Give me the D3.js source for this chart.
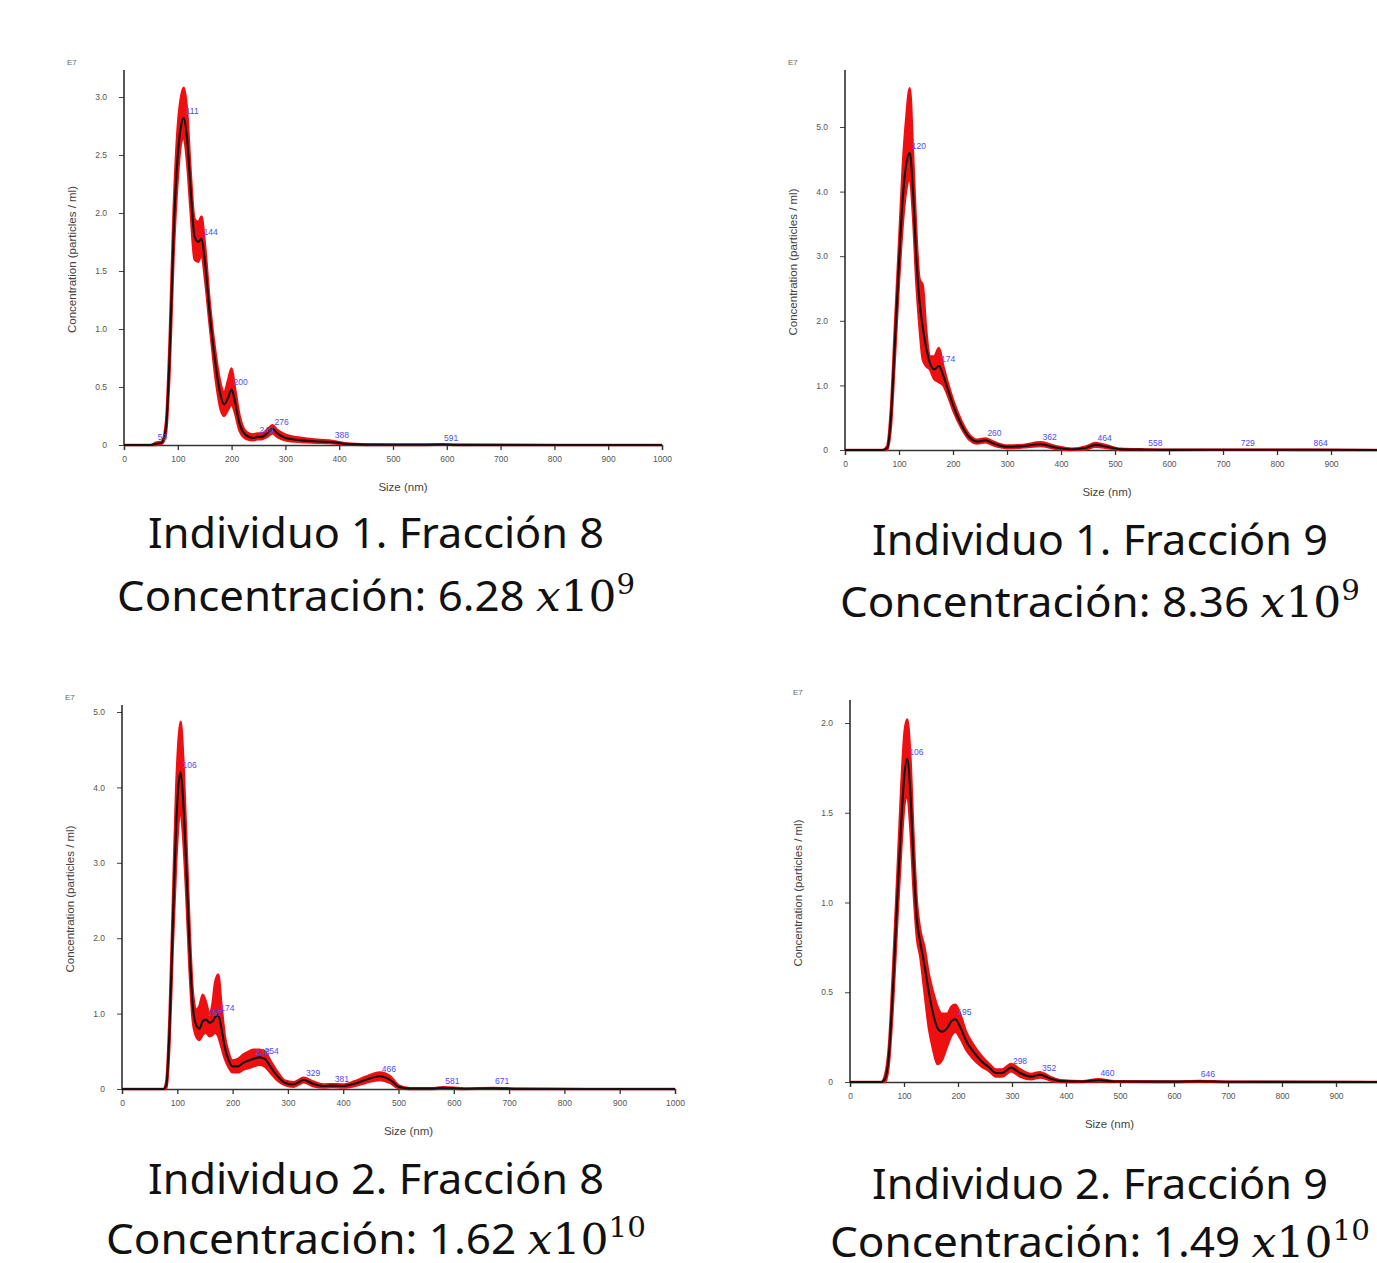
<!DOCTYPE html>
<html>
<head>
<meta charset="utf-8">
<script src="https://d3js.org/d3.v7.min.js"></script>
<style>
  body { margin: 0; background: #fff; }
  svg { display: block; }
</style>
</head>
<body>
<div id="vis"></div>
<script>
// ---- data (E7 particles / ml) ----
var sz1 = [0, 50, 59, 70, 78, 85, 92, 100, 106, 111, 117, 124, 131, 138, 144, 150, 160, 170, 180, 186, 193, 200, 206, 215, 228, 240, 248, 256, 266, 276, 285, 300, 330, 360, 388, 410, 450, 560, 591, 620, 1000];
var mean1 = [0, 0, 0.01, 0.02, 0.15, 0.8, 1.8, 2.5, 2.75, 2.82, 2.65, 2.2, 1.8, 1.75, 1.78, 1.6, 1.1, 0.7, 0.42, 0.35, 0.4, 0.48, 0.38, 0.18, 0.08, 0.06, 0.07, 0.07, 0.1, 0.14, 0.1, 0.06, 0.04, 0.03, 0.025, 0.01, 0.003, 0.002, 0.004, 0.001, 0];
var hi1 = [0, 0, 0.02, 0.03, 0.2, 0.95, 2.0, 2.75, 3.0, 3.08, 2.9, 2.35, 1.95, 1.92, 1.97, 1.75, 1.2, 0.8, 0.52, 0.45, 0.55, 0.66, 0.5, 0.25, 0.11, 0.09, 0.1, 0.1, 0.13, 0.17, 0.13, 0.09, 0.06, 0.045, 0.035, 0.015, 0.005, 0.004, 0.006, 0.002, 0];
var lo1 = [0, 0, 0, 0.01, 0.1, 0.65, 1.6, 2.3, 2.6, 2.65, 2.45, 2.0, 1.6, 1.58, 1.65, 1.45, 1.0, 0.58, 0.3, 0.25, 0.3, 0.35, 0.28, 0.12, 0.05, 0.04, 0.05, 0.05, 0.07, 0.1, 0.07, 0.04, 0.025, 0.02, 0.015, 0.005, 0, 0, 0.002, 0, 0];
var pk1 = [59, 111, 144, 200, 248, 276, 388, 591];

var sz2 = [0, 70, 78, 85, 92, 100, 107, 113, 120, 126, 132, 138, 144, 150, 157, 165, 174, 182, 190, 200, 215, 230, 245, 260, 275, 300, 330, 362, 390, 420, 445, 464, 485, 510, 558, 600, 729, 864, 1000];
var mean2 = [0, 0, 0.03, 0.5, 1.6, 2.9, 3.9, 4.4, 4.6, 4.0, 3.0, 2.3, 1.9, 1.6, 1.35, 1.25, 1.3, 1.15, 0.95, 0.7, 0.4, 0.2, 0.13, 0.15, 0.1, 0.05, 0.06, 0.09, 0.04, 0.01, 0.03, 0.08, 0.05, 0.01, 0.005, 0.002, 0.004, 0.003, 0];
var hi2 = [0, 0, 0.06, 0.65, 1.85, 3.2, 4.4, 5.1, 5.6, 4.6, 3.4, 2.65, 2.55, 1.9, 1.45, 1.45, 1.58, 1.3, 1.05, 0.78, 0.46, 0.24, 0.16, 0.18, 0.13, 0.07, 0.08, 0.12, 0.06, 0.02, 0.05, 0.11, 0.07, 0.02, 0.01, 0.005, 0.006, 0.005, 0];
var lo2 = [0, 0, 0, 0.35, 1.35, 2.6, 3.5, 4.0, 4.2, 3.6, 2.6, 1.9, 1.4, 1.3, 1.25, 1.1, 1.05, 1.0, 0.85, 0.62, 0.35, 0.16, 0.1, 0.12, 0.07, 0.03, 0.04, 0.06, 0.02, 0, 0.01, 0.05, 0.03, 0, 0, 0, 0.002, 0.001, 0];
var pk2 = [120, 174, 260, 362, 464, 558, 729, 864];

var sz3 = [0, 75, 80, 86, 92, 98, 103, 106, 110, 116, 122, 128, 134, 140, 146, 152, 158, 164, 168, 174, 180, 186, 192, 200, 210, 220, 230, 238, 248, 258, 268, 280, 295, 310, 329, 345, 365, 381, 400, 420, 440, 466, 485, 500, 520, 560, 581, 620, 671, 720, 1000];
var mean3 = [0, 0, 0.05, 0.8, 2.2, 3.5, 4.1, 4.2, 3.9, 3.0, 1.9, 1.1, 0.85, 0.8, 0.9, 0.92, 0.88, 0.9, 0.95, 0.98, 0.8, 0.55, 0.4, 0.3, 0.3, 0.35, 0.38, 0.4, 0.42, 0.4, 0.3, 0.18, 0.08, 0.06, 0.12, 0.07, 0.04, 0.045, 0.04, 0.07, 0.12, 0.17, 0.12, 0.03, 0.005, 0.005, 0.015, 0.004, 0.008, 0.002, 0];
var hi3 = [0, 0, 0.1, 1.0, 2.5, 4.0, 4.7, 4.87, 4.5, 3.4, 2.2, 1.3, 1.05, 1.1, 1.25, 1.15, 1.0, 1.15, 1.4, 1.52, 1.1, 0.7, 0.5, 0.38, 0.4, 0.46, 0.5, 0.52, 0.52, 0.5, 0.38, 0.24, 0.11, 0.09, 0.15, 0.1, 0.06, 0.065, 0.06, 0.1, 0.16, 0.22, 0.17, 0.05, 0.01, 0.01, 0.025, 0.008, 0.014, 0.004, 0];
var lo3 = [0, 0, 0, 0.6, 1.9, 3.0, 3.6, 3.7, 3.4, 2.6, 1.6, 0.9, 0.7, 0.65, 0.72, 0.75, 0.7, 0.72, 0.75, 0.7, 0.55, 0.4, 0.3, 0.22, 0.22, 0.26, 0.28, 0.3, 0.32, 0.3, 0.22, 0.12, 0.05, 0.03, 0.09, 0.04, 0.02, 0.025, 0.02, 0.04, 0.08, 0.12, 0.08, 0.01, 0, 0, 0.005, 0, 0.002, 0, 0];
var pk3 = [106, 152, 174, 238, 254, 329, 381, 466, 581, 671];

var sz4 = [0, 58, 65, 72, 80, 88, 95, 101, 106, 112, 118, 124, 130, 138, 146, 154, 162, 170, 180, 188, 195, 205, 215, 228, 242, 258, 270, 282, 298, 315, 335, 352, 370, 390, 430, 460, 490, 600, 646, 700, 1000];
var mean4 = [0, 0, 0.02, 0.15, 0.55, 1.05, 1.45, 1.72, 1.8, 1.6, 1.2, 0.9, 0.78, 0.65, 0.5, 0.38, 0.3, 0.28, 0.3, 0.34, 0.35, 0.3, 0.23, 0.17, 0.12, 0.08, 0.05, 0.05, 0.08, 0.05, 0.03, 0.04, 0.02, 0.005, 0.003, 0.01, 0.003, 0.002, 0.004, 0.001, 0];
var hi4 = [0, 0, 0.04, 0.2, 0.65, 1.18, 1.65, 1.95, 2.02, 1.8, 1.35, 1.0, 0.85, 0.75, 0.6, 0.5, 0.42, 0.38, 0.38, 0.42, 0.43, 0.37, 0.28, 0.21, 0.15, 0.1, 0.07, 0.07, 0.1, 0.07, 0.045, 0.055, 0.03, 0.01, 0.005, 0.015, 0.005, 0.003, 0.006, 0.002, 0];
var lo4 = [0, 0, 0, 0.1, 0.45, 0.92, 1.3, 1.55, 1.6, 1.4, 1.05, 0.8, 0.7, 0.5, 0.3, 0.18, 0.1, 0.12, 0.2, 0.26, 0.28, 0.24, 0.18, 0.13, 0.09, 0.06, 0.03, 0.03, 0.06, 0.03, 0.015, 0.025, 0.01, 0, 0, 0.005, 0.001, 0, 0.002, 0, 0];
var pk4 = [106, 195, 298, 352, 460, 646];

var yTicks1 = [0, 0.5, 1.0, 1.5, 2.0, 2.5, 3.0];
var yTicks2 = [0, 1, 2, 3, 4, 5];
var yTicks3 = [0, 1, 2, 3, 4, 5];
var yTicks4 = [0, 0.5, 1.0, 1.5, 2.0];
var xTicks = [0, 100, 200, 300, 400, 500, 600, 700, 800, 900, 1000];

var titles = ["Individuo 1. Fracción 8", "Individuo 1. Fracción 9", "Individuo 2. Fracción 8", "Individuo 2. Fracción 9"];
var concVals = ["6.28", "8.36", "1.62", "1.49"];
var concExp = ["9", "9", "10", "10"];

// ---- layout (pixel placement of each panel) ----
var layout = [
  {x0: 124, x1: 662, base: 445, top: 97, axTop: 70, cx: 376, t1: 548, t2: 611, w1: 456, w2: 518},
  {x0: 845, x1: 1385, base: 450, top: 127, axTop: 70, cx: 1100, t1: 555, t2: 617, w1: 456, w2: 520},
  {x0: 122, x1: 675, base: 1089, top: 712, axTop: 705, cx: 376, t1: 1194, t2: 1254, w1: 456, w2: 540},
  {x0: 850, x1: 1390, base: 1082, top: 723, axTop: 700, cx: 1100, t1: 1199, t2: 1257, w1: 456, w2: 540}
];

var series = [
  {sz: sz1, mean: mean1, hi: hi1, lo: lo1, pk: pk1, yt: yTicks1, ymax: 3},
  {sz: sz2, mean: mean2, hi: hi2, lo: lo2, pk: pk2, yt: yTicks2, ymax: 5},
  {sz: sz3, mean: mean3, hi: hi3, lo: lo3, pk: pk3, yt: yTicks3, ymax: 5},
  {sz: sz4, mean: mean4, hi: hi4, lo: lo4, pk: pk4, yt: yTicks4, ymax: 2}
];

var svg = d3.select("#vis").append("svg")
  .attr("width", 1377)
  .attr("height", 1263);

series.forEach(function(s, i) {
  var L = layout[i];
  var x = d3.scaleLinear().domain([0, 1000]).range([L.x0, L.x1]);
  var y = d3.scaleLinear().domain([0, s.ymax]).range([L.base, L.top]);
  var pts = s.sz.map(function(v, j) { return {s: v, m: s.mean[j], h: s.hi[j], l: s.lo[j]}; });

  var g = svg.append("g");

  // axes (ticks that fall past the page edge are left out)
  var xAxis = d3.axisBottom(x)
    .tickValues(xTicks.filter(function(t) { return x(t) < 1370; }))
    .tickSize(5).tickPadding(6)
    .tickFormat(d3.format("d"));
  var gx = g.append("g").attr("transform", "translate(0," + L.base + ")").call(xAxis);
  gx.select(".domain").attr("stroke", "#333").attr("stroke-width", 1.3);
  gx.selectAll(".tick line").attr("stroke", "#333").attr("stroke-width", 1.3);
  gx.selectAll(".tick text").attr("fill", "#555").attr("font-size", 8.5)
    .attr("font-family", "Liberation Sans, Arial, sans-serif");

  var yAxis = d3.axisLeft(y).tickValues(s.yt).tickSize(5).tickPadding(12)
    .tickFormat(function(d) { return d === 0 ? "0" : d3.format(".1f")(d); });
  var gy = g.append("g").attr("transform", "translate(" + L.x0 + ",0)").call(yAxis);
  gy.select(".domain").remove();
  gy.append("line").attr("x1", 0).attr("x2", 0).attr("y1", L.axTop).attr("y2", L.base)
    .attr("stroke", "#222").attr("stroke-width", 1.5);
  gy.selectAll(".tick line").attr("stroke", "#444");
  gy.selectAll(".tick text").attr("fill", "#555").attr("font-size", 8.5)
    .attr("font-family", "Liberation Sans, Arial, sans-serif");

  g.append("text").attr("x", L.x0 - 57).attr("y", L.axTop - 5)
    .attr("font-size", 8).attr("fill", "#666")
    .attr("font-family", "Liberation Sans, Arial, sans-serif").text("E7");

  g.append("text")
    .attr("transform", "translate(" + (L.x0 - 48) + "," + ((L.base + L.axTop) / 2 + 2) + ") rotate(-90)")
    .attr("text-anchor", "middle").attr("font-size", 11.5).attr("fill", "#444")
    .attr("font-family", "Liberation Sans, Arial, sans-serif")
    .text("Concentration (particles / ml)");

  g.append("text").attr("x", (L.x0 + Math.min(L.x1, 1377)) / 2 + (i % 2 ? -4 : 10)).attr("y", L.base + 46)
    .attr("text-anchor", "middle").attr("font-size", 11.5).attr("fill", "#444")
    .attr("font-family", "Liberation Sans, Arial, sans-serif").text("Size (nm)");

  // error band + mean line
  var band = d3.area().x(function(d) { return x(d.s); })
    .y0(function(d) { return y(d.l); }).y1(function(d) { return y(d.h); })
    .curve(d3.curveMonotoneX);
  var line = d3.line().x(function(d) { return x(d.s); }).y(function(d) { return y(d.m); })
    .curve(d3.curveMonotoneX);

  g.append("path").datum(pts).attr("d", band)
    .attr("fill", "#ee1010").attr("stroke", "#ee1010").attr("stroke-width", 2.4);
  g.append("path").datum(pts).attr("d", line)
    .attr("fill", "none").attr("stroke", "#111").attr("stroke-width", 2.1);

  // peak labels
  g.selectAll("text.pk").data(s.pk).enter().append("text")
    .attr("class", "pk")
    .attr("x", function(d) { return x(d) + 2; })
    .attr("y", function(d) {
      var m = d3.scaleLinear().domain(s.sz).range(s.mean)(d);
      return y(m) - 4;
    })
    .attr("font-size", 8.5).attr("fill", "#4a4aff")
    .attr("font-family", "Liberation Sans, Arial, sans-serif")
    .text(function(d) { return d; });

  // captions
  var capFont = "Noto Sans, Open Sans, sans-serif";
  g.append("text").attr("x", L.cx).attr("y", L.t1).attr("text-anchor", "middle")
    .attr("font-size", 42).attr("font-family", capFont).attr("fill", "#111")
    .attr("textLength", L.w1).attr("lengthAdjust", "spacingAndGlyphs")
    .text(titles[i]);

  var t2 = g.append("text").attr("x", L.cx).attr("y", L.t2).attr("text-anchor", "middle")
    .attr("font-size", 42).attr("font-family", capFont).attr("fill", "#111")
    .attr("textLength", L.w2).attr("lengthAdjust", "spacingAndGlyphs");
  t2.append("tspan").text("Concentración: " + concVals[i] + " ");
  t2.append("tspan").attr("font-family", "DejaVu Serif, Liberation Serif, serif")
    .attr("font-style", "italic").text("x");
  t2.append("tspan").attr("font-family", "DejaVu Serif, Liberation Serif, serif").text("10");
  t2.append("tspan").attr("font-family", "DejaVu Serif, Liberation Serif, serif")
    .attr("font-size", 28).attr("dy", -17).text(concExp[i]);
});
</script>
</body>
</html>
